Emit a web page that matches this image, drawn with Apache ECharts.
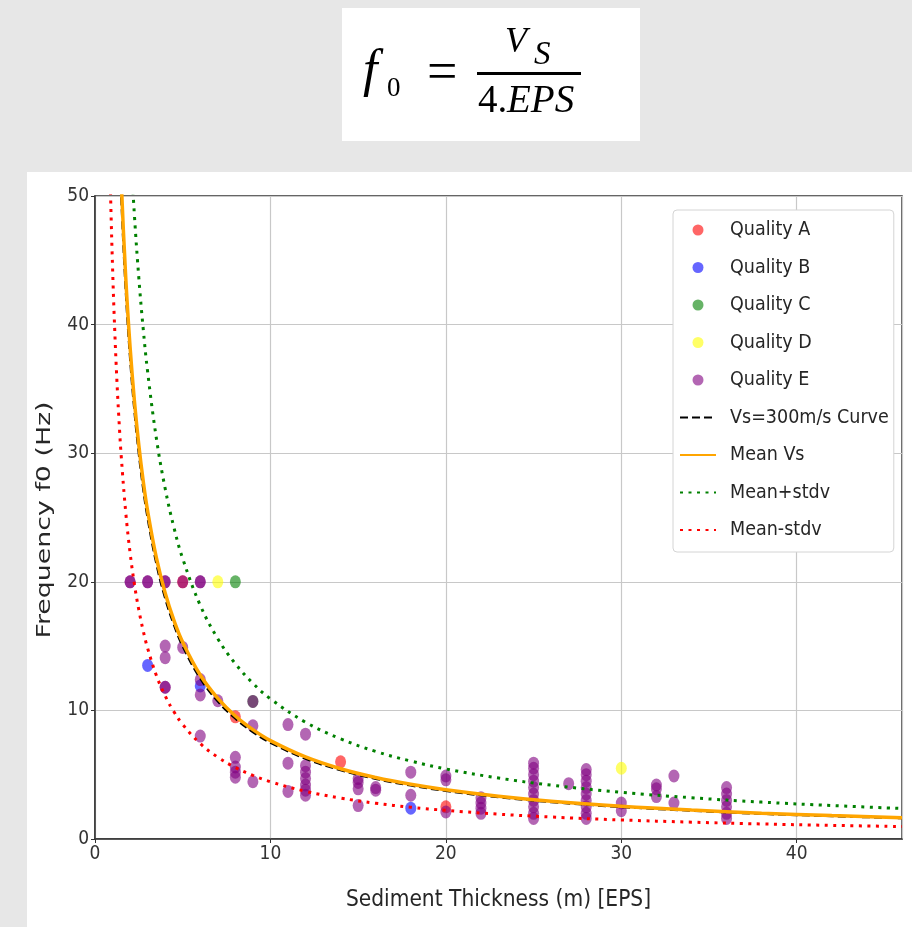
<!DOCTYPE html>
<html>
<head>
<meta charset="utf-8">
<script src="https://cdn.jsdelivr.net/npm/echarts@6/dist/echarts.min.js"></script>
<style>
html,body{margin:0;padding:0;background:#e7e7e7;}
#chart{width:912px;height:927px;}
</style>
</head>
<body>
<div id="chart"></div>
<script>
// ---- Data ----
const xTicks = [0, 10, 20, 30, 40];
const yTicks = [0, 10, 20, 30, 40, 50];

const qualityA = [[5,20],[8,9.5],[14,6.0],[20,2.5]];
const qualityB = [[3,13.5],[6,11.9],[18,2.4]];
const qualityC = [[8,20],[9,10.7]];
const qualityD = [[7,20],[30,5.5]];
const qualityE = [
  [2,20],[2,20],[3,20],[3,20],[4,20],[4,20],[5,20],[6,20],[6,20],
  [4,15.0],[4,14.1],[4,11.8],[4,11.8],[5,14.9],[6,12.4],[6,11.2],[6,8.0],[7,10.75],
  [8,6.35],[8,5.6],[8,5.2],[8,4.8],[9,10.7],[9,8.8],[9,4.45],
  [11,8.9],[11,5.9],[11,3.7],[12,8.15],[12,5.7],[12,5.2],[12,4.7],[12,4.2],[12,3.8],[12,3.4],
  [15,4.7],[15,4.4],[15,3.9],[15,2.6],[16,4.0],[16,3.8],
  [18,5.2],[18,3.4],[20,4.9],[20,4.6],[20,2.1],
  [22,3.2],[22,2.8],[22,2.4],[22,2.0],
  [25,5.9],[25,5.5],[25,5.0],[25,4.5],[25,4.0],[25,3.5],[25,3.0],[25,2.5],[25,2.0],[25,1.6],
  [27,4.3],
  [28,5.4],[28,5.0],[28,4.5],[28,4.0],[28,3.5],[28,3.0],[28,2.5],[28,2.0],[28,1.6],
  [30,2.8],[30,2.2],
  [32,4.2],[32,3.9],[32,3.3],[33,4.9],[33,2.8],
  [36,4.0],[36,3.5],[36,3.0],[36,2.5],[36,2.0],[36,1.6]
];

// Curves f0 = Vs / (4 * EPS), values read at these thicknesses
const curveThickness = [0.8,0.9,1,1.1,1.25,1.4,1.5,1.75,2,2.25,2.5,2.75,3,3.5,4,4.5,5,6,7,8,9,10,12,14,16,18,20,23,26,30,34,38,42,46];
const vs300Curve = [93.75,83.33,75,68.18,60,53.57,50,42.86,37.5,33.33,30,27.27,25,21.43,18.75,16.67,15,12.5,10.71,9.38,8.33,7.5,6.25,5.36,4.69,4.17,3.75,3.26,2.88,2.5,2.21,1.97,1.79,1.63];
const meanVsCurve = [95.6,85,76.5,69.55,61.2,54.64,51,43.71,38.25,34,30.6,27.82,25.5,21.86,19.13,17,15.3,12.75,10.93,9.56,8.5,7.65,6.38,5.46,4.78,4.25,3.83,3.33,2.94,2.55,2.25,2.01,1.82,1.66];
const meanPlusCurve = [136.25,121.1,109,99.1,87.2,77.86,72.67,62.29,54.5,48.44,43.6,39.64,36.33,31.14,27.25,24.22,21.8,18.17,15.57,13.63,12.11,10.9,9.08,7.79,6.81,6.06,5.45,4.74,4.19,3.63,3.21,2.87,2.6,2.37];
const meanMinusCurve = [55.6,49.4,44.5,40.45,35.6,31.79,29.67,25.43,22.25,19.78,17.8,16.18,14.83,12.71,11.13,9.89,8.9,7.42,6.36,5.56,4.94,4.45,3.71,3.18,2.78,2.47,2.23,1.93,1.71,1.48,1.31,1.17,1.06,0.97];

const scatterNames = ['Quality A','Quality B','Quality C','Quality D','Quality E'];
const curveNames = ['Vs=300m/s Curve','Mean Vs','Mean+stdv','Mean-stdv'];

// ---- Build chart ----
const COND = "'DejaVu Sans Condensed', 'DejaVu Sans', sans-serif";
const zip = (xs, ys) => xs.map((x, i) => [x, ys[i]]);

function scatter(name, data, color) {
  return {
    name, type: 'scatter', data, z: 2,
    symbol: 'circle', symbolSize: [11, 13],
    itemStyle: { color, opacity: 0.6 },
    emphasis: { disabled: true }
  };
}
function curve(name, ys, color, width, type, z) {
  return {
    name, type: 'line', data: zip(curveThickness, ys), z,
    symbol: 'none', smooth: 0.4, clip: true,
    lineStyle: { color, width, type, cap: 'butt' },
    itemStyle: { color },
    emphasis: { disabled: true }
  };
}

const legendData = scatterNames.map(n => ({ name: n }))
  .concat(curveNames.map(n => ({ name: n, itemStyle: { color: 'rgba(0,0,0,0)', opacity: 0, borderWidth: 0 } })));

const serif = 'Liberation Serif';
const chart = echarts.init(document.getElementById('chart'), null, { renderer: 'canvas' });
chart.setOption({
  backgroundColor: '#e7e7e7',
  animation: false,
  graphic: [
    { type: 'rect', z: -10, shape: { x: 342, y: 8, width: 298, height: 133 }, style: { fill: '#ffffff' } },
    { type: 'rect', z: -10, shape: { x: 27, y: 172, width: 885, height: 755 }, style: { fill: '#ffffff' } },
    { type: 'text', x: 363, y: 72, style: { text: 'f', font: 'italic 52px "' + serif + '"', fill: '#000', verticalAlign: 'middle' } },
    { type: 'text', x: 387, y: 89, style: { text: '0', font: '27px "' + serif + '"', fill: '#000', verticalAlign: 'middle' } },
    { type: 'text', x: 427, y: 75, style: { text: '=', font: '54px "' + serif + '"', fill: '#000', verticalAlign: 'middle' } },
    { type: 'text', x: 505, y: 43, style: { text: 'V', font: 'italic 36px "' + serif + '"', fill: '#000', verticalAlign: 'middle' } },
    { type: 'text', x: 534, y: 55, style: { text: 'S', font: 'italic 33px "' + serif + '"', fill: '#000', verticalAlign: 'middle' } },
    { type: 'rect', shape: { x: 477, y: 72, width: 104, height: 3 }, style: { fill: '#000' } },
    { type: 'text', x: 478, y: 102, style: { text: '4.', font: '39px "' + serif + '"', fill: '#000', verticalAlign: 'middle' } },
    { type: 'text', x: 507, y: 102, style: { text: 'EPS', font: 'italic 39px "' + serif + '"', fill: '#000', verticalAlign: 'middle' } },
    { type: 'text', x: 45, y: 520, rotation: Math.PI / 2, scaleX: 1.34,
      style: { text: 'Frequency f0 (Hz)', font: '20px "DejaVu Sans"', fill: '#262626', align: 'center', verticalAlign: 'middle' } }
  ],
  grid: { left: 95, right: 10, top: 196, bottom: 88, show: true, borderColor: '#333', borderWidth: 1.5, backgroundColor: 'transparent' },
  legend: {
    orient: 'vertical', left: 673, top: 210,
    padding: [10, 5, 12, 6], itemGap: 17.5, itemWidth: 36, itemHeight: 11,
    backgroundColor: '#ffffff', borderColor: '#d4d4d4', borderWidth: 1, borderRadius: 4,
    textStyle: { fontFamily: COND, fontSize: 19.5, color: '#262626', padding: [0, 0, 0, 9] },
    data: legendData, selectedMode: false
  },
  xAxis: {
    type: 'value', min: xTicks[0], max: 46, interval: 10,
    name: 'Sediment Thickness (m) [EPS]', nameLocation: 'middle', nameGap: 50,
    nameTextStyle: { fontFamily: COND, fontSize: 22.5, color: '#262626' },
    axisLine: { show: true, lineStyle: { color: '#333', width: 1.5 } },
    axisTick: { show: true, length: 4, lineStyle: { color: '#333' } },
    axisLabel: { fontFamily: COND, fontSize: 19, color: '#333', margin: 6, showMaxLabel: false,
      formatter: v => xTicks.includes(v) ? String(v) : '' },
    splitLine: { show: true, lineStyle: { color: '#c8c8c8', width: 1.2 } }
  },
  yAxis: {
    type: 'value', min: yTicks[0], max: yTicks[yTicks.length - 1], interval: 10,
    axisLine: { show: true, lineStyle: { color: '#333', width: 1.5 } },
    axisTick: { show: true, length: 4, lineStyle: { color: '#333' } },
    axisLabel: { fontFamily: COND, fontSize: 19, color: '#333', margin: 6 },
    splitLine: { show: true, lineStyle: { color: '#c8c8c8', width: 1.2 } }
  },
  series: [
    scatter('Quality A', qualityA, '#ff0000'),
    scatter('Quality B', qualityB, '#0000ff'),
    scatter('Quality C', qualityC, '#008000'),
    scatter('Quality D', qualityD, '#ffff00'),
    scatter('Quality E', qualityE, '#800080'),
    curve('Vs=300m/s Curve', vs300Curve, '#000000', 2.5, [8, 4], 3),
    curve('Mean Vs', meanVsCurve, '#ffa500', 3.5, 'solid', 3),
    curve('Mean+stdv', meanPlusCurve, '#008000', 3, [3, 5.5], 3),
    curve('Mean-stdv', meanMinusCurve, '#ff0000', 3, [3, 5.5], 3)
  ]
});
</script>
</body>
</html>
